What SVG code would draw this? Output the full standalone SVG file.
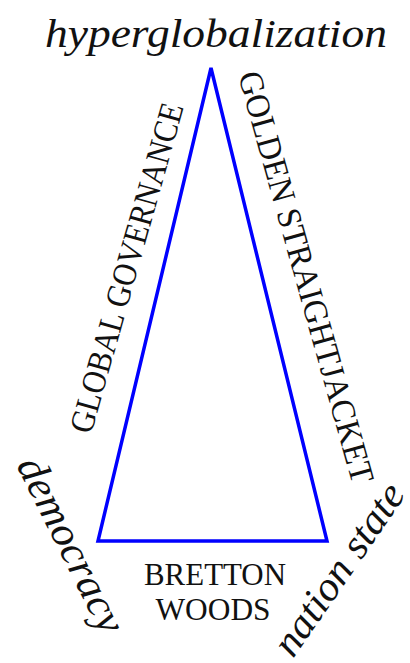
<svg xmlns="http://www.w3.org/2000/svg" width="410" height="663" viewBox="0 0 410 663">
<style>
.it{font-family:"Liberation Serif","DejaVu Serif","Noto Serif","Times New Roman",serif;font-style:italic;fill:#111;}
.cap{font-family:"Liberation Serif","DejaVu Serif","Noto Serif","Times New Roman",serif;fill:#111;}
.edge{fill:none;stroke:#0000ff;stroke-width:3.5;stroke-linejoin:miter;}
</style>
<rect width="410" height="663" fill="#fff"/>
<g id="connectors">
<polygon class="edge" points="211,68 98,541 327,541"/>
</g>
<g id="node-hyperglobalization">
<text class="it" x="45" y="47" font-size="41" textLength="342" lengthAdjust="spacingAndGlyphs">hyperglobalization</text>
</g>
<g id="node-democracy">
<text class="it" font-size="42" textLength="192" lengthAdjust="spacingAndGlyphs" transform="translate(16,465) rotate(63.4)">democracy</text>
</g>
<g id="node-nation-state">
<text class="it" font-size="41" textLength="200" lengthAdjust="spacingAndGlyphs" transform="translate(293,659) rotate(-55.4)">nation state</text>
</g>
<g id="label-global-governance">
<text class="cap" font-size="34" textLength="341" lengthAdjust="spacingAndGlyphs" transform="translate(91,435) rotate(-74.2)">GLOBAL GOVERNANCE</text>
</g>
<g id="label-golden-straightjacket">
<text class="cap" font-size="34" textLength="426" lengthAdjust="spacingAndGlyphs" transform="translate(238,75) rotate(74.4)">GOLDEN STRAIGHTJACKET</text>
</g>
<g id="label-bretton-woods">
<text class="cap" x="215" y="585" font-size="32" text-anchor="middle" textLength="142" lengthAdjust="spacingAndGlyphs">BRETTON</text>
<text class="cap" x="213" y="620" font-size="32" text-anchor="middle" textLength="115" lengthAdjust="spacingAndGlyphs">WOODS</text>
</g>
</svg>
